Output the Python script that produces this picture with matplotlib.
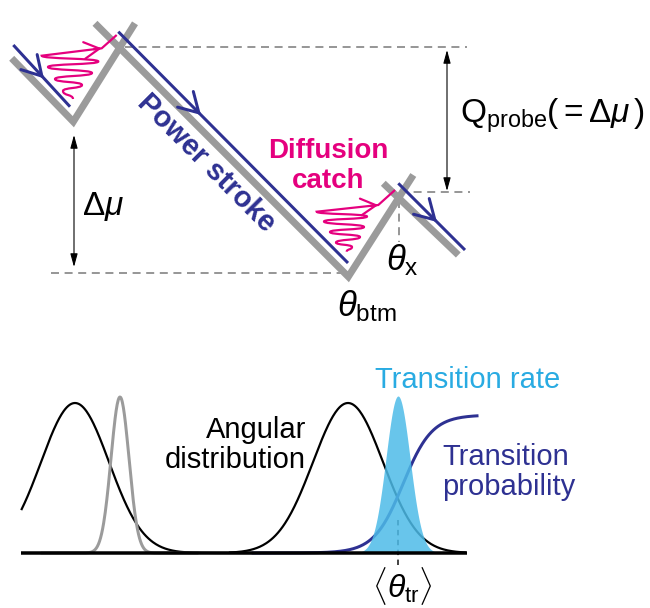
import numpy as np
import matplotlib

matplotlib.use("Agg")
import matplotlib.pyplot as plt
from matplotlib.path import Path
from matplotlib.patches import PathPatch

plt.rcParams["font.family"] = ["Liberation Sans", "DejaVu Sans"]
plt.rcParams["mathtext.fontset"] = "custom"
plt.rcParams["mathtext.rm"] = "Liberation Sans"
plt.rcParams["mathtext.it"] = "Liberation Sans:italic"
plt.rcParams["mathtext.bf"] = "Liberation Sans:bold"

BLUE = "#2E3192"
PINK = "#E5007E"
GRAY = "#9B9B9B"
DASH = "#7F7F7F"
LIGHTBLUE = "#29ABE2"
FILLBLUE = "#4DBBE8"

# ---- energy landscape (schematic, pixel units) ----
gray_left_x = [11.7, 73.3, 135.0]
gray_left_y = [58.3, 121.7, 23.3]
gray_mid_x = [95.0, 348.3, 413.3]
gray_mid_y = [23.3, 276.7, 175.0]
gray_right_x = [383.3, 458.3]
gray_right_y = [183.3, 255.0]

blue_segs_x = [[13.3, 70.0], [118.3, 348.0], [398.3, 465.0]]
blue_segs_y = [[45.0, 106.7], [31.7, 263.0], [183.3, 250.0]]
blue_arrow_frac = [0.54, 0.36, 0.58]

# pink wiggles: turning points from bottom to top, then arrow tip and end
wig1_x = [73.0, 63.0, 82.0, 55.0, 92.0, 48.0, 98.3, 41.7]
wig1_y = [99.0, 91.0, 85.0, 79.0, 73.0, 67.0, 61.5, 55.7]
wig1_tip = (101.7, 48.3)
wig1_end = (116.7, 35.0)
wig2_x = [346.7, 352.0, 336.0, 360.0, 330.0, 364.0, 324.0, 367.0, 316.7]
wig2_y = [251.7, 247.0, 242.5, 237.0, 232.0, 227.0, 221.5, 216.5, 211.7]
wig2_tip = (378.3, 205.0)
wig2_end = (395.0, 190.0)

dash_h = [(125, 467, 47), (51, 345, 273), (400, 470, 192)]
dash_v = (398.5, 200, 242)

dmu_arrow = (74, 135, 267)
q_arrow = (447, 50, 191)

# ---- angular distributions (bottom panel) ----
base_y = 553
base_x = [21, 467]
dist_center = [75, 120, 348]
dist_height = [150, 156, 150]
dist_width = [34, 9, 35]
dist_color = ["black", GRAY, "black"]
dist_range = [(21.7, 250), (42, 197), (230, 465)]
rate_center, rate_height, rate_width = 398, 157, 12
prob_mid, prob_top, prob_scale = 403, 138, 14.5
prob_range = (253, 477)
theta_tr = 398

fig = plt.figure(figsize=(6.5, 6.08), dpi=100)
ax = fig.add_axes([0, 0, 1, 1])
ax.set_xlim(0, 650)
ax.set_ylim(608, 0)
ax.axis("off")

px = 0.72  # points per pixel

for xs, ys in [(gray_left_x, gray_left_y), (gray_mid_x, gray_mid_y),
               (gray_right_x, gray_right_y)]:
    ax.plot(xs, ys, color=GRAY, lw=7 * px, solid_capstyle="butt",
            solid_joinstyle="miter", zorder=2)

for xs, ys, f in zip(blue_segs_x, blue_segs_y, blue_arrow_frac):
    ax.plot(xs, ys, color=BLUE, lw=3 * px, solid_capstyle="butt", zorder=3)
    d = np.array([xs[1] - xs[0], ys[1] - ys[0]])
    d = d / np.hypot(*d)
    tip = np.array([xs[0], ys[0]]) + f * np.array([xs[1] - xs[0], ys[1] - ys[0]])
    ax.annotate("", xy=tip, xytext=tip - 8 * d,
                arrowprops=dict(arrowstyle="->,head_length=0.55,head_width=0.32",
                                color=BLUE, lw=3 * px, mutation_scale=25,
                                shrinkA=0, shrinkB=0), zorder=3)


def wiggle(xs, ys, tip, end):
    verts = [(xs[0], ys[0])]
    codes = [Path.MOVETO]
    for i in range(len(xs) - 1):
        dy = ys[i + 1] - ys[i]
        verts += [(xs[i], ys[i] + dy * 0.6), (xs[i + 1], ys[i + 1] - dy * 0.6),
                  (xs[i + 1], ys[i + 1])]
        codes += [Path.CURVE4] * 3
    verts += [tip, end]
    codes += [Path.LINETO, Path.LINETO]
    ax.add_patch(PathPatch(Path(verts, codes), fill=False, edgecolor=PINK,
                           lw=2.2 * px, capstyle="butt", zorder=4))
    d = np.array([tip[0] - xs[-1], tip[1] - ys[-1]])
    d = d / np.hypot(*d)
    ax.annotate("", xy=tip, xytext=np.array(tip) - 8 * d,
                arrowprops=dict(arrowstyle="->,head_length=0.55,head_width=0.3",
                                color=PINK, lw=2.2 * px, mutation_scale=20,
                                shrinkA=0, shrinkB=0), zorder=4)


wiggle(wig1_x, wig1_y, wig1_tip, wig1_end)
wiggle(wig2_x, wig2_y, wig2_tip, wig2_end)

for x0, x1, y in dash_h:
    ax.plot([x0, x1], [y, y], color=DASH, lw=1.6 * px, dashes=(5, 3.5), zorder=1)
ax.plot([dash_v[0]] * 2, dash_v[1:], color=DASH, lw=1.6 * px, dashes=(5, 3.5), zorder=1)

for x, y0, y1 in [dmu_arrow, q_arrow]:
    ax.annotate("", xy=(x, y0), xytext=(x, y1),
                arrowprops=dict(arrowstyle="<|-|>,head_length=0.8,head_width=0.22",
                                color="black", lw=1.1 * px, mutation_scale=10,
                                shrinkA=0, shrinkB=0))

ax.text(206, 163, "Power stroke", color=BLUE, fontsize=21, fontweight="bold",
        rotation=-45, rotation_mode="anchor", ha="center", va="center")
ax.text(328, 158, "Diffusion", color=PINK, fontsize=20, fontweight="bold",
        ha="center", va="baseline")
ax.text(328, 188, "catch", color=PINK, fontsize=20, fontweight="bold",
        ha="center", va="baseline")
ax.text(82, 215, r"$\Delta\mu$", fontsize=24, va="baseline")
ax.text(460, 123, r"$\mathrm{Q}_{\mathrm{probe}}(=\Delta\mu\,)$", fontsize=24,
        va="baseline")
ax.text(386, 270, r"$\theta_{\mathrm{x}}$", fontsize=25, va="baseline")
ax.text(337, 316, r"$\theta_{\mathrm{btm}}$", fontsize=25, va="baseline")

# bottom panel
for c, h, w, col, (x0, x1) in zip(dist_center, dist_height, dist_width,
                                   dist_color, dist_range):
    xx = np.linspace(x0, x1, 300)
    ax.plot(xx, base_y - h * np.exp(-(xx - c) ** 2 / (2 * w ** 2)), color=col,
            lw=2.2 * px if col == "black" else 3 * px, zorder=2)

xx = np.linspace(*prob_range, 300)
ax.plot(xx, base_y - prob_top / (1 + np.exp(-(xx - prob_mid) / prob_scale)),
        color=BLUE, lw=3 * px, zorder=2)

ax.plot([theta_tr, theta_tr], [520, 566], color="#333333", lw=1.8 * px,
        dashes=(3, 2.5), zorder=2)

xx = np.linspace(rate_center - 45, rate_center + 45, 300)
ax.fill_between(xx, base_y, base_y - rate_height *
                np.exp(-(xx - rate_center) ** 2 / (2 * rate_width ** 2)),
                color=FILLBLUE, alpha=0.85, lw=0, zorder=3)

ax.plot(base_x, [base_y, base_y], color="black", lw=3.5 * px,
        solid_capstyle="butt", zorder=4)

ax.text(468, 388, "Transition rate", color=LIGHTBLUE, fontsize=21,
        ha="center", va="baseline")
ax.text(306, 438, "Angular", fontsize=21, ha="right", va="baseline")
ax.text(306, 468, "distribution", fontsize=21, ha="right", va="baseline")
ax.text(442, 465, "Transition", color=BLUE, fontsize=21, va="baseline")
ax.text(442, 495, "probability", color=BLUE, fontsize=21, va="baseline")
ax.text(402, 598, r"$\langle\theta_{\mathrm{tr}}\rangle$", fontsize=23,
        ha="center", va="baseline")

fig.savefig("out.png", dpi=100)
